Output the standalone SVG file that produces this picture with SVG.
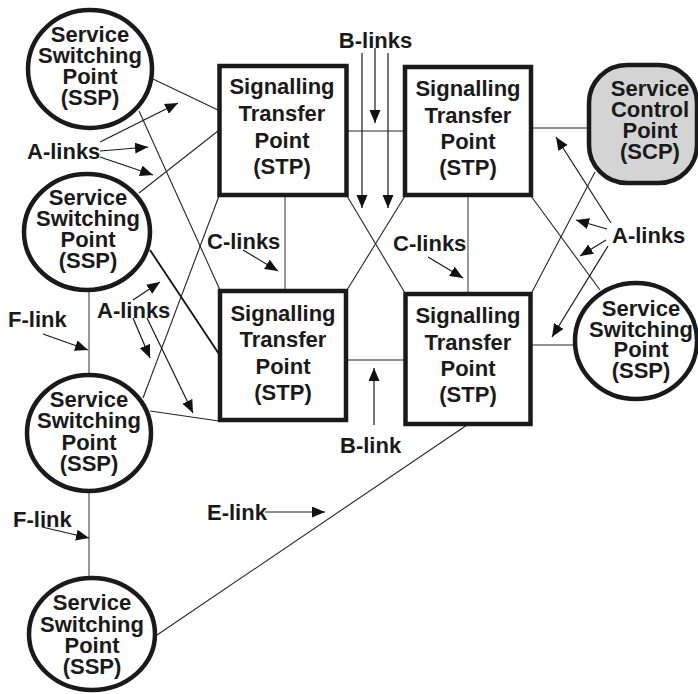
<svg xmlns="http://www.w3.org/2000/svg" width="698" height="694" viewBox="0 0 698 694">
<defs>
<marker id="ah" markerUnits="userSpaceOnUse" markerWidth="14" markerHeight="12" refX="13" refY="5.5" orient="auto">
<path d="M0,0 L13,5.5 L0,11 z" fill="#111"/>
</marker>
<style>
.t{font-family:"Liberation Sans",Arial,Helvetica,sans-serif;font-weight:bold;font-size:22px;fill:#1a1a1a}
.c{text-anchor:middle}
.node{fill:#fff;stroke:#1a1a1a;stroke-width:4.5}
.ln{stroke:#262626;stroke-width:1.1;fill:none}
.gr{stroke:#6e6e6e;stroke-width:1.4;fill:none}
.ar{stroke:#1a1a1a;stroke-width:1.2;fill:none;marker-end:url(#ah)}
</style>
</defs>
<rect width="698" height="694" fill="#fff"/>
<g id="connectors">
<line class="ln" x1="153" y1="79" x2="218" y2="110"/>
<line class="ln" x1="139" y1="111" x2="220" y2="290"/>
<line class="ln" x1="139" y1="193" x2="218" y2="131"/>
<line class="ln" x1="150" y1="250" x2="219" y2="354" style="stroke-width:1.8;stroke:#111"/>
<line class="ln" x1="219" y1="196" x2="143" y2="398"/>
<line class="ln" x1="150" y1="411" x2="219" y2="421"/>
<line class="gr" x1="348" y1="131" x2="403" y2="131"/>
<line class="gr" x1="285" y1="197" x2="285" y2="289"/>
<line class="gr" x1="468" y1="197" x2="468" y2="292"/>
<line class="ln" x1="347" y1="196" x2="405" y2="293"/>
<line class="ln" x1="405" y1="196" x2="347" y2="290"/>
<line class="gr" x1="348" y1="360" x2="404" y2="360"/>
<line class="ln" x1="533" y1="128" x2="588" y2="128"/>
<line class="ln" x1="531" y1="196" x2="600" y2="290"/>
<line class="ln" x1="595" y1="172" x2="531" y2="294"/>
<line class="gr" x1="532" y1="345" x2="575" y2="345"/>
<line class="ln" x1="467" y1="425" x2="157" y2="635"/>
<line class="gr" x1="89" y1="292" x2="89" y2="373"/>
<line class="gr" x1="89" y1="493" x2="89" y2="577"/>
</g>
<g id="ssp1"><ellipse class="node" cx="90" cy="69" rx="62" ry="59"/>
<text class="t c"><tspan x="90" y="42">Service</tspan><tspan x="90" y="63">Switching</tspan><tspan x="90" y="84">Point</tspan><tspan x="90" y="105">(SSP)</tspan></text></g>
<g id="ssp2"><ellipse class="node" cx="87" cy="232" rx="63" ry="58"/>
<text class="t c"><tspan x="88" y="205">Service</tspan><tspan x="88" y="226">Switching</tspan><tspan x="88" y="247">Point</tspan><tspan x="88" y="268">(SSP)</tspan></text></g>
<g id="ssp3"><ellipse class="node" cx="89" cy="433" rx="62" ry="58"/>
<text class="t c"><tspan x="89" y="407">Service</tspan><tspan x="89" y="428">Switching</tspan><tspan x="89" y="450">Point</tspan><tspan x="89" y="471">(SSP)</tspan></text></g>
<g id="ssp4"><ellipse class="node" cx="92" cy="634" rx="63" ry="56"/>
<text class="t c"><tspan x="92" y="610">Service</tspan><tspan x="92" y="632">Switching</tspan><tspan x="92" y="653">Point</tspan><tspan x="92" y="674">(SSP)</tspan></text></g>
<g id="ssp5"><ellipse class="node" cx="636" cy="341" rx="61" ry="58"/>
<text class="t c"><tspan x="641" y="316">Service</tspan><tspan x="641" y="337">Switching</tspan><tspan x="641" y="357">Point</tspan><tspan x="641" y="378">(SSP)</tspan></text></g>
<g id="stp1"><rect class="node" x="219.5" y="66" width="127" height="129"/>
<text class="t c"><tspan x="282" y="94">Signalling</tspan><tspan x="282" y="121">Transfer</tspan><tspan x="282" y="148">Point</tspan><tspan x="282" y="174">(STP)</tspan></text></g>
<g id="stp2"><rect class="node" x="405" y="67" width="126" height="128"/>
<text class="t c"><tspan x="468" y="96">Signalling</tspan><tspan x="468" y="123">Transfer</tspan><tspan x="468" y="149">Point</tspan><tspan x="468" y="175">(STP)</tspan></text></g>
<g id="stp3"><rect class="node" x="220" y="291" width="126" height="129"/>
<text class="t c"><tspan x="283" y="321">Signalling</tspan><tspan x="283" y="347">Transfer</tspan><tspan x="283" y="374">Point</tspan><tspan x="283" y="400">(STP)</tspan></text></g>
<g id="stp4"><rect class="node" x="405.5" y="294" width="125" height="130"/>
<text class="t c"><tspan x="468" y="323">Signalling</tspan><tspan x="468" y="350">Transfer</tspan><tspan x="468" y="376">Point</tspan><tspan x="468" y="402">(STP)</tspan></text></g>
<g id="scp"><rect class="node" x="589" y="65" width="108" height="118" rx="38" ry="38" style="fill:#d4d4d4"/>
<text class="t c"><tspan x="650" y="96">Service</tspan><tspan x="650" y="117">Control</tspan><tspan x="650" y="138">Point</tspan><tspan x="650" y="159">(SCP)</tspan></text></g>
<g id="labels">
<text class="t" x="27" y="159">A-links</text>
<line class="ar" x1="100" y1="142" x2="178" y2="103"/>
<line class="ar" x1="100" y1="151" x2="148" y2="147"/>
<line class="ar" x1="100" y1="157" x2="153" y2="175"/>
<text class="t c" x="375.5" y="48">B-links</text>
<line class="ar" x1="362" y1="53" x2="362" y2="208"/>
<line class="ar" x1="375" y1="48" x2="375" y2="123"/>
<line class="ar" x1="388" y1="53" x2="388" y2="208"/>
<text class="t" x="207" y="249">C-links</text>
<line class="ar" x1="243" y1="250" x2="278" y2="271"/>
<text class="t" x="393" y="251">C-links</text>
<line class="ar" x1="428" y1="257" x2="463" y2="278"/>
<text class="t" x="612" y="243">A-links</text>
<line class="ar" x1="611" y1="223" x2="556" y2="137"/>
<line class="ar" x1="607" y1="229" x2="576" y2="220"/>
<line class="ar" x1="606" y1="240" x2="580" y2="256"/>
<line class="ar" x1="608" y1="246" x2="552" y2="337"/>
<text class="t" x="97" y="318">A-links</text>
<line class="ar" x1="133" y1="300" x2="160" y2="282"/>
<line class="ar" x1="133" y1="318" x2="150" y2="358"/>
<line class="ar" x1="147" y1="318" x2="193" y2="413"/>
<text class="t" x="8" y="327">F-link</text>
<line class="ar" x1="43" y1="334" x2="88" y2="350"/>
<text class="t" x="13" y="527">F-link</text>
<line class="ar" x1="42" y1="527" x2="89" y2="538"/>
<text class="t" x="207" y="520">E-link</text>
<line class="ar" x1="265" y1="512" x2="325" y2="512"/>
<text class="t" x="340" y="453">B-link</text>
<line class="ar" x1="374" y1="425" x2="374" y2="368"/>
</g>
</svg>
